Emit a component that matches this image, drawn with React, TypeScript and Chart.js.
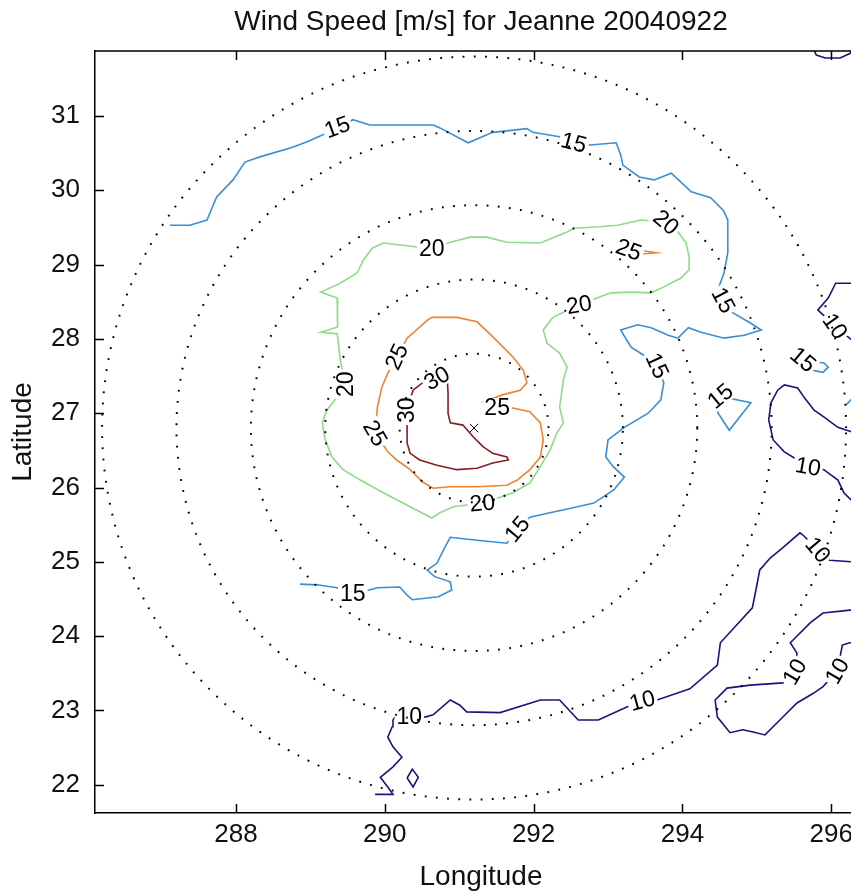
import { useEffect, useRef } from 'react';
import { Chart, registerables } from 'chart.js';

Chart.register(...registerables);

// ---------------- data ----------------
const titleText = 'Wind Speed [m/s] for Jeanne 20040922';
const xAxisTitle = 'Longitude';
const yAxisTitle = 'Latitude';

const lonMin = 286.105;
const lonMax = 296.481;
const latMin = 21.619;
const latMax = 31.875;
const xTickValues = [288, 290, 292, 294, 296];
const yTickValues = [22, 23, 24, 25, 26, 27, 28, 29, 30, 31];

// storm centre and range rings (degrees)
const stormLon = 291.2;
const stormLat = 26.8;
const ringRadii = [1, 2, 3, 4, 5];

// contour pieces [lon, lat]
const c15main: [number, number][] = [
  [287.11, 29.53], [287.38, 29.53], [287.61, 29.6], [287.74, 29.91], [287.96, 30.14], [288.12, 30.38],
  [288.32, 30.45], [288.73, 30.57], [288.95, 30.65], [289.22, 30.77], [289.4, 30.84], [289.57, 30.95],
  [289.8, 30.88], [290.65, 30.88], [290.74, 30.84], [291.12, 30.64], [291.31, 30.72], [291.45, 30.78],
  [291.91, 30.83], [291.99, 30.78], [292.35, 30.72], [292.54, 30.64], [292.76, 30.61], [293.11, 30.64],
  [293.17, 30.48], [293.2, 30.34], [293.42, 30.18], [293.62, 30.14], [293.85, 30.23], [294.12, 29.98],
  [294.38, 29.9], [294.55, 29.73], [294.61, 29.6], [294.61, 29.16], [294.56, 28.89], [294.49, 28.7],
  [294.55, 28.52], [294.68, 28.35], [294.92, 28.21], [295.06, 28.12], [294.83, 28.05], [294.56, 28.01],
  [294.25, 28.09], [294.08, 28.15], [293.94, 28.01], [293.81, 28.05], [293.58, 28.15], [293.4, 28.19],
  [293.17, 28.12], [293.31, 27.89], [293.48, 27.78], [293.66, 27.64], [293.75, 27.41], [293.71, 27.18],
  [293.54, 27.0], [293.22, 26.81], [293.0, 26.64], [292.97, 26.41], [293.07, 26.28], [293.22, 26.14],
  [293.08, 25.97], [292.81, 25.79], [292.41, 25.7], [292.22, 25.66], [291.95, 25.6], [291.78, 25.44],
  [291.64, 25.25], [291.24, 25.29], [290.88, 25.33], [290.81, 25.2], [290.7, 24.98], [290.57, 24.89],
  [290.67, 24.8], [290.88, 24.73], [290.9, 24.62], [290.72, 24.53], [290.37, 24.49], [290.3, 24.55],
  [290.2, 24.66], [289.9, 24.65], [289.83, 24.63], [289.57, 24.57], [289.36, 24.65], [289.09, 24.69],
  [288.86, 24.7],
];
const c15loopA: [number, number][] = [
  [294.45, 27.14], [294.55, 27.22], [294.92, 27.14], [294.63, 26.77], [294.48, 27.0], [294.45, 27.14],
];
const c15loopB: [number, number][] = [
  [295.62, 27.72], [295.69, 27.69], [295.9, 27.68], [295.96, 27.62], [295.89, 27.55], [295.73, 27.58], [295.62, 27.72],
];
const c15edge: [number, number][] = [[296.2, 27.11], [296.3, 27.22], [296.45, 27.3]];

const c20main: [number, number][] = [
  [290.63, 29.21], [290.41, 29.24], [290.24, 29.26], [289.98, 29.29], [289.83, 29.22], [289.71, 29.06],
  [289.63, 28.89], [289.4, 28.75], [289.14, 28.63], [289.36, 28.55], [289.37, 28.29], [289.36, 28.16],
  [289.14, 28.09], [289.36, 28.07], [289.38, 27.92], [289.4, 27.72], [289.47, 27.39], [289.33, 27.18],
  [289.22, 27.04], [289.16, 26.87], [289.2, 26.64], [289.29, 26.41], [289.44, 26.24], [289.67, 26.1],
  [289.98, 25.93], [290.34, 25.74], [290.63, 25.59], [290.74, 25.66], [290.92, 25.74], [291.31, 25.79],
  [291.55, 25.87], [291.72, 25.93], [291.95, 26.06], [292.09, 26.28], [292.22, 26.5], [292.31, 26.73],
  [292.4, 26.87], [292.35, 27.08], [292.4, 27.45], [292.45, 27.62], [292.35, 27.81], [292.18, 27.94],
  [292.13, 28.12], [292.26, 28.29], [292.61, 28.46], [293.04, 28.62], [293.31, 28.63], [293.58, 28.62],
  [293.75, 28.7], [293.98, 28.82], [294.09, 28.93], [294.09, 29.1], [294.05, 29.29], [293.94, 29.44],
  [293.78, 29.57], [293.44, 29.6], [293.13, 29.53], [292.89, 29.51], [292.54, 29.49], [292.45, 29.44],
  [292.09, 29.29], [291.64, 29.3], [291.37, 29.37], [291.15, 29.37], [290.88, 29.3], [290.63, 29.21],
];

const c25main: [number, number][] = [
  [290.16, 27.76], [290.3, 28.01], [290.57, 28.25], [290.63, 28.29], [290.97, 28.29], [291.24, 28.23],
  [291.45, 28.03], [291.72, 27.76], [291.86, 27.58], [291.91, 27.41], [291.82, 27.31], [291.59, 27.25],
  [291.32, 27.15], [291.51, 27.07], [291.72, 27.07], [291.95, 27.02], [292.09, 26.87], [292.13, 26.64],
  [292.09, 26.41], [291.95, 26.24], [291.78, 26.1], [291.64, 26.03], [291.24, 26.01], [290.88, 26.01],
  [290.65, 25.99], [290.51, 26.07], [290.34, 26.24], [290.16, 26.37], [290.04, 26.48], [289.87, 26.73],
  [289.9, 27.08], [289.96, 27.35], [290.04, 27.54], [290.16, 27.76],
];
const c25small: [number, number][] = [[293.11, 29.24], [293.65, 29.16], [293.16, 29.12], [293.11, 29.24]];

const c30main: [number, number][] = [
  [290.38, 27.31], [290.51, 27.41], [290.7, 27.47], [290.84, 27.45], [290.85, 27.27], [290.85, 27.0],
  [290.88, 26.87], [291.05, 26.84], [291.19, 26.68], [291.32, 26.55], [291.45, 26.46], [291.64, 26.41],
  [291.66, 26.37], [291.45, 26.33], [291.24, 26.26], [290.97, 26.24], [290.7, 26.3], [290.47, 26.37],
  [290.34, 26.46], [290.3, 26.6], [290.3, 26.8], [290.29, 27.04], [290.38, 27.31],
];

const c10a: [number, number][] = [
  [289.87, 21.87], [290.11, 21.87], [290.04, 21.97], [289.94, 22.1], [290.11, 22.24], [290.23, 22.37],
  [290.11, 22.51], [290.04, 22.64], [290.1, 22.78], [290.11, 22.87], [290.16, 22.94], [290.33, 22.91],
  [290.54, 22.91], [290.65, 22.94], [290.88, 23.14], [291.01, 23.07], [291.1, 22.98], [291.55, 22.97],
  [292.09, 23.14], [292.35, 23.14], [292.6, 22.87], [292.87, 22.87], [293.26, 23.05], [293.46, 23.13],
  [293.66, 23.14], [294.1, 23.29], [294.47, 23.61], [294.51, 23.91], [294.94, 24.38], [294.98, 24.58],
  [295.04, 24.89], [295.18, 25.05], [295.35, 25.19], [295.58, 25.39], [295.62, 25.36], [295.82, 25.16],
  [295.98, 25.02], [296.27, 25.0], [296.5, 25.0],
];
const c10diamond: [number, number][] = [[290.3, 22.09], [290.37, 22.21], [290.45, 22.1], [290.38, 21.97], [290.3, 22.09]];
const c10b: [number, number][] = [
  [296.5, 24.35], [296.25, 24.35], [295.89, 24.31], [295.72, 24.18], [295.45, 23.91], [295.54, 23.77],
  [295.51, 23.52], [295.35, 23.37], [294.91, 23.34], [294.6, 23.3], [294.44, 23.14], [294.47, 22.91],
  [294.64, 22.7], [294.81, 22.74], [294.95, 22.71], [295.11, 22.67], [295.31, 22.87], [295.54, 23.1],
  [295.76, 23.23], [295.89, 23.32], [296.08, 23.53], [296.15, 23.88], [296.25, 23.91], [296.5, 23.91],
];
const c10c: [number, number][] = [
  [296.5, 28.75], [296.06, 28.75], [295.96, 28.55], [295.82, 28.39], [296.05, 28.17], [296.27, 27.99], [296.5, 27.9],
];
const c10d: [number, number][] = [
  [296.5, 26.7], [296.27, 26.75], [296.09, 26.81], [295.9, 26.95], [295.77, 27.04], [295.63, 27.22],
  [295.55, 27.34], [295.37, 27.38], [295.28, 27.31], [295.19, 27.14], [295.16, 26.91], [295.22, 26.64],
  [295.37, 26.48], [295.55, 26.37], [295.69, 26.28], [295.9, 26.24], [296.09, 26.1], [296.17, 25.93],
  [296.27, 25.83], [296.5, 25.7],
];
const c10top: [number, number][] = [
  [295.76, 31.9], [295.8, 31.82], [295.92, 31.78], [296.12, 31.78], [296.25, 31.84], [296.3, 31.9],
];

// contour labels
const labelText = [
  '15', '15', '15', '15', '15', '15', '15', '15',
  '20', '20', '20', '20', '20',
  '25', '25', '25', '25',
  '30', '30',
  '10', '10', '10', '10', '10', '10', '10',
];
const labelLon = [
  289.36, 292.54, 294.55, 293.66, 291.78, 289.57, 294.51, 295.62,
  290.63, 289.47, 291.31, 292.61, 293.78,
  290.16, 291.51, 289.87, 293.28,
  290.7, 290.29,
  290.33, 293.46, 295.82, 295.51, 296.08, 295.69, 296.05,
];
const labelLat = [
  30.85, 30.64, 28.52, 27.64, 25.44, 24.57, 27.23, 27.72,
  29.21, 27.39, 25.79, 28.46, 29.57,
  27.76, 27.07, 26.73, 29.2,
  27.47, 27.04,
  22.91, 23.13, 25.16, 23.52, 23.53, 26.28, 28.17,
];
const labelAngle = [
  -20, 15, 62, 65, -50, 0, -40, 40,
  0, -90, -5, -10, 40,
  -65, 0, 60, 20,
  -30, -90,
  0, -15, 50, -60, -60, 10, 55,
];

// ---------------- styling ----------------
const FONT = '"Liberation Sans", Arial, Helvetica, sans-serif';
const levelColor: Record<number, string> = {
  10: '#16167c',
  15: '#3a8fd4',
  20: '#8fdc88',
  25: '#ee8430',
  30: '#861c24',
};

const contourPieces: { level: number; pts: [number, number][] }[] = [
  { level: 10, pts: c10a },
  { level: 10, pts: c10diamond },
  { level: 10, pts: c10b },
  { level: 10, pts: c10c },
  { level: 10, pts: c10d },
  { level: 10, pts: c10top },
  { level: 15, pts: c15main },
  { level: 15, pts: c15loopA },
  { level: 15, pts: c15loopB },
  { level: 15, pts: c15edge },
  { level: 20, pts: c20main },
  { level: 25, pts: c25main },
  { level: 25, pts: c25small },
  { level: 30, pts: c30main },
];

const FIRST_CONTOUR_INDEX = 1 + ringRadii.length;

function buildDatasets(): any[] {
  const marker = {
    data: [{ x: stormLon, y: stormLat }],
    showLine: false,
    pointStyle: 'crossRot',
    pointRadius: 6,
    pointHoverRadius: 6,
    borderColor: '#000',
    backgroundColor: '#000',
    borderWidth: 1,
    clip: 0,
  };
  const rings = ringRadii.map((r) => ({
    data: Array.from({ length: 361 }, (_, i) => {
      const t = (i * Math.PI) / 180;
      return { x: stormLon + r * Math.cos(t), y: stormLat + r * Math.sin(t) };
    }),
    showLine: true,
    borderColor: '#000',
    borderWidth: 2,
    borderDash: [1.8, 9.4],
    borderCapStyle: 'butt',
    pointRadius: 0,
    pointHoverRadius: 0,
    tension: 0,
    clip: 0,
  }));
  const contours = contourPieces.map((p) => ({
    data: p.pts.map(([x, y]) => ({ x, y })),
    showLine: true,
    borderColor: levelColor[p.level],
    borderWidth: 1.6,
    pointRadius: 0,
    pointHoverRadius: 0,
    tension: 0,
    clip: 0,
  }));
  return [marker, ...rings, ...contours];
}

const labelPlugin = {
  id: 'contourLabels',
  afterDatasetDraw(chart: any, args: any) {
    if (args.index !== FIRST_CONTOUR_INDEX) return;
    const { ctx, chartArea, scales } = chart;
    const xs = scales.x;
    const ys = scales.y;
    ctx.save();
    ctx.beginPath();
    ctx.rect(chartArea.left, chartArea.top, chartArea.right - chartArea.left, chartArea.bottom - chartArea.top);
    ctx.clip();
    ctx.font = `23px ${FONT}`;
    ctx.textAlign = 'center';
    ctx.textBaseline = 'middle';
    for (let i = 0; i < labelText.length; i++) {
      const px = xs.getPixelForValue(labelLon[i]);
      const py = ys.getPixelForValue(labelLat[i]);
      ctx.save();
      ctx.translate(px, py);
      ctx.rotate((labelAngle[i] * Math.PI) / 180);
      const w = ctx.measureText(labelText[i]).width + 4;
      ctx.fillStyle = '#fff';
      ctx.fillRect(-w / 2, -10, w, 20);
      ctx.fillStyle = '#000';
      ctx.fillText(labelText[i], 0, 1);
      ctx.restore();
    }
    ctx.restore();
  },
};

const framePlugin = {
  id: 'matlabFrame',
  afterDraw(chart: any) {
    const { ctx, chartArea, scales } = chart;
    const { left, right, top, bottom } = chartArea;
    const xs = scales.x;
    const ys = scales.y;
    ctx.save();
    ctx.strokeStyle = '#000';
    ctx.lineWidth = 1.5;
    ctx.beginPath();
    ctx.moveTo(left, top);
    ctx.lineTo(right, top);
    ctx.lineTo(right, bottom);
    ctx.stroke();
    ctx.beginPath();
    xTickValues.forEach((v) => {
      const px = Math.round(xs.getPixelForValue(v)) + 0.5;
      ctx.moveTo(px, bottom);
      ctx.lineTo(px, bottom - 9);
      ctx.moveTo(px, top);
      ctx.lineTo(px, top + 9);
    });
    yTickValues.forEach((v) => {
      const py = Math.round(ys.getPixelForValue(v)) + 0.5;
      ctx.moveTo(left, py);
      ctx.lineTo(left + 9, py);
      ctx.moveTo(right, py);
      ctx.lineTo(right - 9, py);
    });
    ctx.stroke();
    ctx.restore();
  },
};

export default function App() {
  const ref = useRef<HTMLCanvasElement>(null);

  useEffect(() => {
    const canvas = ref.current;
    if (!canvas) return;
    const tickFont = { family: FONT, size: 26 };
    const chart = new Chart(canvas, {
      type: 'scatter',
      data: { datasets: buildDatasets() },
      options: {
        responsive: false,
        animation: false,
        devicePixelRatio: 1,
        events: [],
        layout: { padding: 0 },
        plugins: {
          legend: { display: false },
          tooltip: { enabled: false },
          title: {
            display: true,
            text: titleText,
            color: '#111',
            font: { family: FONT, size: 28, weight: 'normal', lineHeight: 1 },
            padding: { top: 8, bottom: 15 },
          },
        },
        scales: {
          x: {
            type: 'linear',
            position: 'bottom',
            min: lonMin,
            max: lonMax,
            afterBuildTicks: (s: any) => {
              s.ticks = xTickValues.map((v) => ({ value: v }));
            },
            afterFit: (s: any) => {
              s.height = 81;
            },
            grid: { display: false, drawTicks: false },
            border: { display: true, color: '#000', width: 1.5 },
            ticks: {
              font: tickFont,
              color: '#111',
              padding: 6,
              maxRotation: 0,
              autoSkip: false,
              callback: (v: any) => String(v),
            },
            title: {
              display: true,
              text: xAxisTitle,
              color: '#111',
              font: { family: FONT, size: 28, lineHeight: 1 },
              padding: { top: 0, bottom: 3 },
            },
          },
          y: {
            type: 'linear',
            position: 'left',
            min: latMin,
            max: latMax,
            afterBuildTicks: (s: any) => {
              s.ticks = yTickValues.map((v) => ({ value: v }));
            },
            afterFit: (s: any) => {
              s.width = 95;
            },
            grid: { display: false, drawTicks: false },
            border: { display: true, color: '#000', width: 1.5 },
            ticks: {
              font: tickFont,
              color: '#111',
              padding: 15,
              autoSkip: false,
              callback: (v: any) => String(v),
            },
            title: {
              display: true,
              text: yAxisTitle,
              color: '#111',
              font: { family: FONT, size: 28, lineHeight: 1 },
              padding: { top: 9, bottom: 0 },
            },
          },
          yR: {
            type: 'linear',
            position: 'right',
            display: true,
            afterFit: (s: any) => {
              s.width = 95;
            },
            grid: { display: false, drawTicks: false },
            border: { display: false },
            ticks: { display: false },
          },
        },
      } as any,
      plugins: [labelPlugin, framePlugin],
    });
    return () => chart.destroy();
  }, []);

  return (
    <div
      style={{
        position: 'fixed',
        left: 0,
        top: 0,
        width: 851,
        height: 894,
        overflow: 'hidden',
        background: '#fff',
      }}
    >
      <canvas ref={ref} width={962} height={894} style={{ display: 'block', width: 962, height: 894 }} />
    </div>
  );
}
